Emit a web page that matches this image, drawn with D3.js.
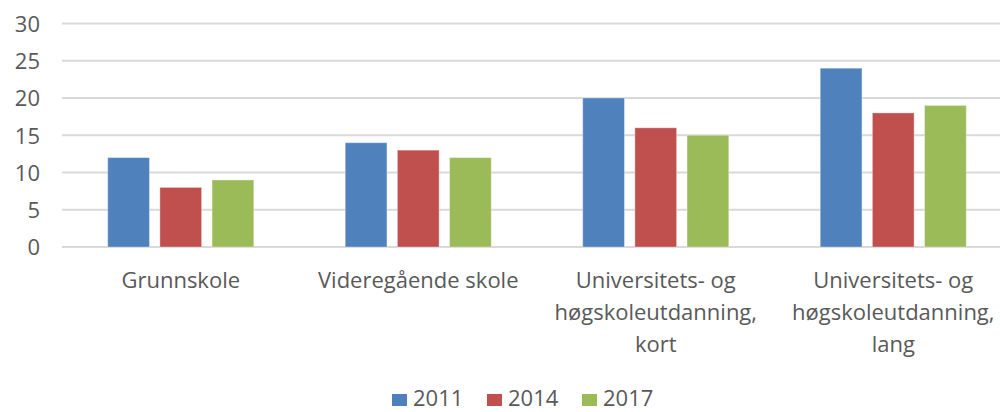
<!DOCTYPE html>
<html>
<head>
<meta charset="utf-8">
<script src="https://cdn.jsdelivr.net/npm/d3@7"></script>
<style>
  body { margin: 0; background: #fff; }
  svg text { font-family: "Open Sans", sans-serif; fill: #595959; }
  .grid line { stroke: #d9d9d9; stroke-width: 2; }
</style>
</head>
<body>
<div id="chart"></div>
<script>
// Chart data
var categories = ["Grunnskole", "Videregående skole", "Universitets- og høgskoleutdanning, kort", "Universitets- og høgskoleutdanning, lang"];
var categoryLines = [
  ["Grunnskole"],
  ["Videregående skole"],
  ["Universitets- og", "høgskoleutdanning,", "kort"],
  ["Universitets- og", "høgskoleutdanning,", "lang"]
];
var seriesNames = ["2011", "2014", "2017"];
var values2011 = [12, 14, 20, 24];
var values2014 = [8, 13, 16, 18];
var values2017 = [9, 12, 15, 19];
var yTicks = [0, 5, 10, 15, 20, 25, 30];
var colors = ["#4f81bd", "#c0504d", "#9bbb59"];

var seriesValues = [values2011, values2014, values2017];

var width = 1000, height = 412;

var svg = d3.select("#chart").append("svg")
    .attr("width", width)
    .attr("height", height);

// Scales
var x0 = d3.scaleBand()
    .domain(categories)
    .range([62, 1012])
    .paddingInner(0.385)
    .paddingOuter(0.1925);

var x1 = d3.scaleBand()
    .domain(seriesNames)
    .range([0, x0.bandwidth()])
    .paddingInner(0.2)
    .paddingOuter(0);

var y = d3.scaleLinear()
    .domain([0, 30])
    .range([247, 23.5]);

var color = d3.scaleOrdinal().domain(seriesNames).range(colors);

// Gridlines
svg.append("g")
    .attr("class", "grid")
    .selectAll("line")
    .data(yTicks)
    .enter()
      .append("line")
        .attr("x1", 62)
        .attr("x2", width)
        .attr("y1", function(d) { return y(d); })
        .attr("y2", function(d) { return y(d); });

// Y axis labels
var yAxis = d3.axisLeft(y).tickValues(yTicks).tickSize(0).tickPadding(0);
svg.append("g")
    .attr("transform", "translate(40,0)")
    .call(yAxis)
    .call(function(g) { g.select(".domain").remove(); })
    .selectAll("text")
      .style("font-size", "22px")
      .attr("fill", "#595959")
      .attr("dy", "0.36em");

// Bars
var rows = categories.map(function(c, i) {
  return { cat: c, vals: seriesNames.map(function(s, j) { return { s: s, v: seriesValues[j][i] }; }) };
});

svg.append("g")
    .selectAll("g")
    .data(rows)
    .enter()
      .append("g")
        .attr("transform", function(d) { return "translate(" + x0(d.cat) + ",0)"; })
      .selectAll("rect")
      .data(function(d) { return d.vals; })
      .enter()
        .append("rect")
          .attr("x", function(d) { return x1(d.s); })
          .attr("y", function(d) { return y(d.v); })
          .attr("width", x1.bandwidth())
          .attr("height", function(d) { return y(0) - y(d.v); })
          .attr("fill", function(d) { return color(d.s); })
          .attr("stroke", "#ffffff")
          .attr("stroke-opacity", 0.35)
          .attr("stroke-width", 1);

// Category labels
var labels = svg.append("g")
    .selectAll("text")
    .data(categories)
    .enter()
      .append("text")
        .attr("text-anchor", "middle")
        .style("font-size", "22px")
        .attr("x", function(d) { return x0(d) + x0.bandwidth() / 2; })
        .attr("y", 288);

labels.selectAll("tspan")
    .data(function(d, i) { return categoryLines[i]; })
    .enter()
      .append("tspan")
        .attr("x", function() { return this.parentNode.getAttribute("x"); })
        .attr("dy", function(d, i) { return i == 0 ? 0 : 32; })
        .text(function(d) { return d; });

// Legend
var legend = svg.append("g").attr("class", "legend");
var items = legend.selectAll("g")
    .data(seriesNames)
    .enter()
      .append("g")
        .attr("transform", function(d, i) { return "translate(" + (392 + i * 95) + ",0)"; });

items.append("rect")
    .attr("y", 394)
    .attr("width", 15)
    .attr("height", 12)
    .attr("fill", function(d) { return color(d); });

items.append("text")
    .attr("x", 21)
    .attr("y", 406)
    .style("font-size", "22px")
    .text(function(d) { return d; });
</script>
</body>
</html>
